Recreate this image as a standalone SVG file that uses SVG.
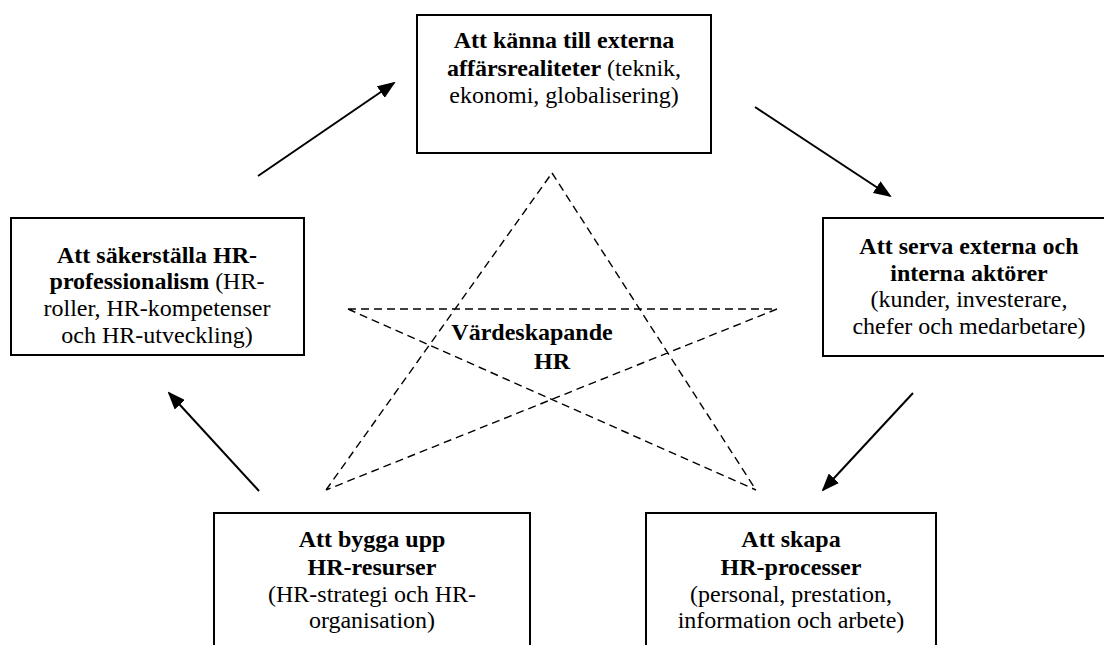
<svg xmlns="http://www.w3.org/2000/svg" width="1104" height="645" viewBox="0 0 1104 645">
<defs>
<style>
.box{fill:#fff;stroke:#000;stroke-width:2}
.t{font-family:"Liberation Serif","Times New Roman",serif;font-size:24px;fill:#000;text-anchor:middle}
.b{font-weight:bold}
.arr{stroke:#000;stroke-width:2;fill:none;marker-end:url(#ah)}
.star{stroke:#000;stroke-width:1.4;fill:none;stroke-dasharray:8 5}
</style>
<marker id="ah" markerUnits="userSpaceOnUse" markerWidth="18" markerHeight="14" refX="16" refY="7" orient="auto">
<path d="M0,0 L18,7 L0,14 z" fill="#000"/>
</marker>
</defs>
<rect width="1104" height="645" fill="#fff"/>
<g id="connectors">
<line class="arr" x1="258" y1="176" x2="394" y2="83"/>
<line class="arr" x1="755" y1="107" x2="890" y2="196"/>
<line class="arr" x1="913" y1="393" x2="823" y2="490"/>
<line class="arr" x1="259" y1="491" x2="169" y2="393"/>
</g>
<g id="star">
<path class="star" d="M552,173 L756,490 M348,309 L756,490 M348,309 L777,309 M777,309 L326,490 M326,490 L552,173"/>
<text class="t b" x="532" y="340">Värdeskapande</text>
<text class="t b" x="552" y="369">HR</text>
</g>
<g id="node-top">
<rect class="box" x="417" y="15" width="294" height="138"/>
<text class="t" x="564" y="48"><tspan class="b">Att känna till externa</tspan></text>
<text class="t" x="564" y="76"><tspan class="b">affärsrealiteter</tspan> (teknik,</text>
<text class="t" x="564" y="103">ekonomi, globalisering)</text>
</g>
<g id="node-left">
<rect class="box" x="11" y="218" width="293" height="137"/>
<text class="t" x="157" y="263"><tspan class="b">Att säkerställa HR-</tspan></text>
<text class="t" x="157" y="289"><tspan class="b">professionalism</tspan> (HR-</text>
<text class="t" x="157" y="316">roller, HR-kompetenser</text>
<text class="t" x="157" y="343">och HR-utveckling)</text>
</g>
<g id="node-right">
<rect class="box" x="823" y="218" width="300" height="138"/>
<text class="t b" x="969" y="254">Att serva externa och</text>
<text class="t b" x="969" y="281">interna aktörer</text>
<text class="t" x="969" y="307">(kunder, investerare,</text>
<text class="t" x="969" y="334">chefer och medarbetare)</text>
</g>
<g id="node-bottom-left">
<rect class="box" x="214" y="513" width="316" height="150"/>
<text class="t b" x="372" y="547">Att bygga upp</text>
<text class="t b" x="372" y="575">HR-resurser</text>
<text class="t" x="372" y="602">(HR-strategi och HR-</text>
<text class="t" x="372" y="628">organisation)</text>
</g>
<g id="node-bottom-right">
<rect class="box" x="646" y="513" width="290" height="150"/>
<text class="t b" x="791" y="547">Att skapa</text>
<text class="t b" x="791" y="575">HR-processer</text>
<text class="t" x="791" y="602">(personal, prestation,</text>
<text class="t" x="791" y="628">information och arbete)</text>
</g>
</svg>
